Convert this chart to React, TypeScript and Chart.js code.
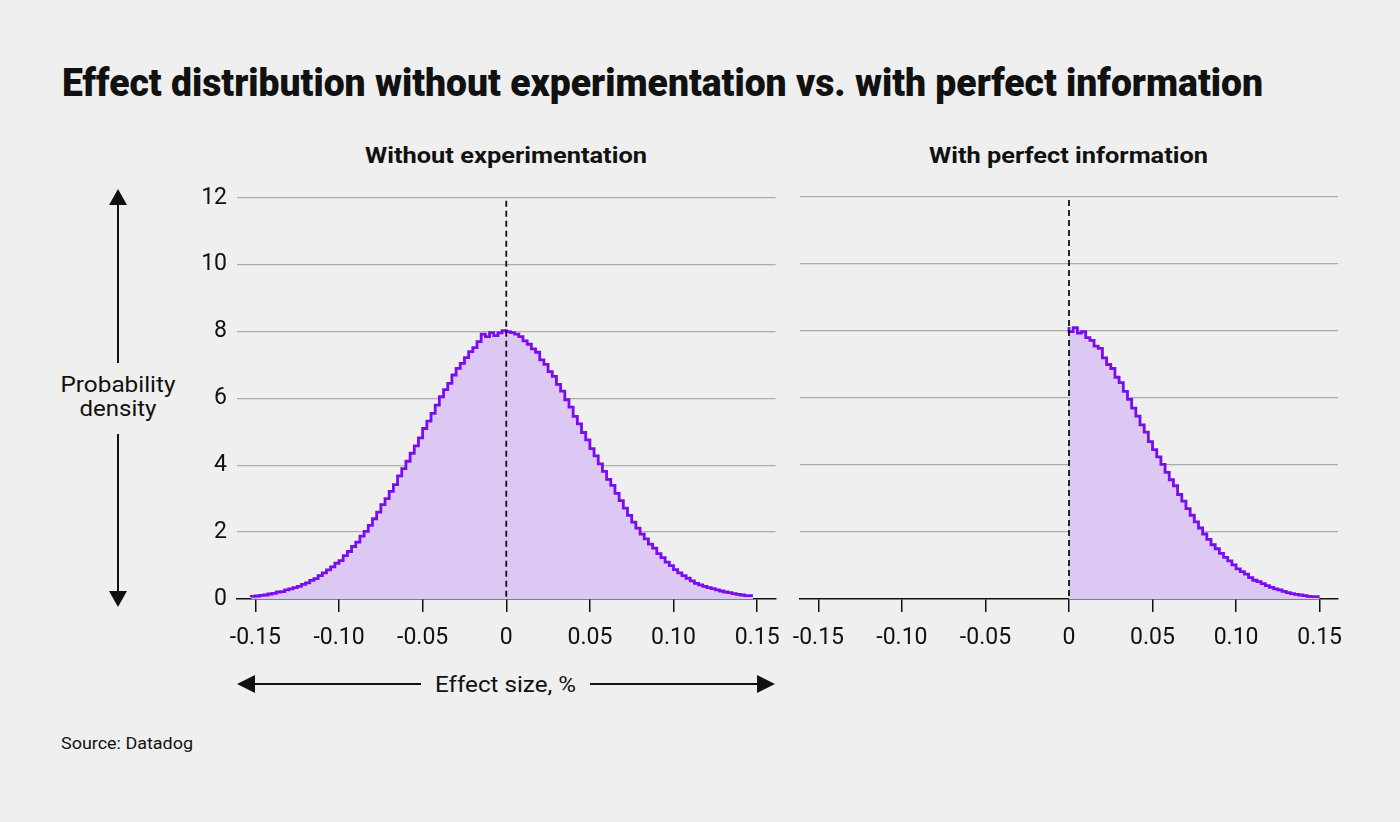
import React, { useEffect, useRef } from 'react';
import { Chart, registerables } from 'chart.js';

Chart.register(...registerables);

// ---- data ----
const BIN_WIDTH = 0.0025;
const LEFT_START = -0.1525;
const LEFT_DENSITY = [
  0.06, 0.08, 0.09, 0.11, 0.12, 0.15, 0.17, 0.21, 0.22, 0.27,
  0.30, 0.34, 0.38, 0.44, 0.48, 0.56, 0.61, 0.70, 0.78, 0.87,
  0.96, 1.07, 1.15, 1.30, 1.42, 1.57, 1.70, 1.88, 2.02, 2.20,
  2.40, 2.60, 2.82, 3.00, 3.22, 3.42, 3.68, 3.90, 4.12, 4.36,
  4.58, 4.82, 5.10, 5.32, 5.55, 5.80, 6.05, 6.26, 6.45, 6.70,
  6.90, 7.05, 7.22, 7.40, 7.52, 7.70, 7.92, 7.85, 7.97, 7.88,
  7.96, 8.03, 8.00, 7.97, 7.92, 7.85, 7.72, 7.62, 7.48, 7.38,
  7.15, 7.02, 6.80, 6.66, 6.42, 6.22, 5.96, 5.74, 5.46, 5.24,
  4.98, 4.76, 4.50, 4.28, 4.04, 3.82, 3.58, 3.40, 3.16, 2.94,
  2.72, 2.50, 2.30, 2.12, 1.94, 1.80, 1.64, 1.52, 1.36, 1.24,
  1.10, 1.00, 0.88, 0.78, 0.70, 0.62, 0.54, 0.47, 0.42, 0.38,
  0.34, 0.31, 0.27, 0.24, 0.21, 0.19, 0.16, 0.14, 0.12, 0.10,
];
const RIGHT_START = 0;
const RIGHT_DENSITY = [
  8.12, 7.98, 8.10, 7.94, 7.98, 7.80, 7.72, 7.55, 7.48, 7.20,
  7.00, 6.88, 6.62, 6.46, 6.20, 5.96, 5.70, 5.46, 5.20, 4.98,
  4.70, 4.46, 4.24, 4.02, 3.78, 3.56, 3.38, 3.12, 2.92, 2.70,
  2.50, 2.30, 2.12, 1.94, 1.78, 1.62, 1.50, 1.36, 1.24, 1.14,
  1.02, 0.90, 0.82, 0.74, 0.64, 0.56, 0.52, 0.46, 0.40, 0.35,
  0.30, 0.27, 0.23, 0.19, 0.16, 0.14, 0.12, 0.10, 0.08, 0.07,
];
const X_TICKS = [-0.15, -0.1, -0.05, 0, 0.05, 0.1, 0.15];
const Y_TICKS = [0, 2, 4, 6, 8, 10, 12];
const X_MIN = -0.161;
const X_MAX = 0.161;

const TITLE = 'Effect distribution without experimentation vs. with perfect information';
const LEFT_TITLE = 'Without experimentation';
const RIGHT_TITLE = 'With perfect information';
const Y_LABEL = ['Probability', 'density'];
const X_LABEL = 'Effect size, %';
const SOURCE = 'Source: Datadog';

const LINE_COLOR = '#7a0cf0';
const FILL_COLOR = 'rgb(221,199,243)';
const TEXT = '#111111';
const BG = '#efefef';

function binPoints(values: number[], start: number) {
  const pts = values.map((v, i) => ({ x: start + i * BIN_WIDTH, y: v }));
  pts.push({ x: start + values.length * BIN_WIDTH, y: values[values.length - 1] });
  return pts;
}

function fmtX(v: number) {
  if (Math.abs(v) < 1e-9) return '0';
  return (v < 0 ? '-' : '') + Math.abs(v).toFixed(2);
}

const zeroLine = {
  id: 'zeroLine',
  afterDatasetsDraw(chart: any) {
    const { ctx, chartArea, scales } = chart;
    const x = scales.x.getPixelForValue(0);
    ctx.save();
    ctx.setLineDash([6, 4]);
    ctx.lineWidth = 1.8;
    ctx.strokeStyle = TEXT;
    ctx.beginPath();
    ctx.moveTo(x, chartArea.top + 3);
    ctx.lineTo(x, chartArea.bottom);
    ctx.stroke();
    ctx.restore();
  },
};

function makeConfig(values: number[], start: number, showY: boolean, yWidth: number, padRight: number, padTop: number): any {
  return {
    type: 'line',
    data: {
      datasets: [
        {
          data: binPoints(values, start),
          stepped: 'after',
          borderColor: LINE_COLOR,
          borderWidth: 2.8,
          backgroundColor: FILL_COLOR,
          fill: 'origin',
          pointRadius: 0,
        },
      ],
    },
    options: {
      responsive: false,
      animation: false,
      layout: { padding: { top: padTop, right: padRight, left: 0, bottom: 0 } },
      plugins: { legend: { display: false }, tooltip: { enabled: false } },
      scales: {
        x: {
          type: 'linear',
          min: X_MIN,
          max: X_MAX,
          afterBuildTicks: (s: any) => {
            s.ticks = X_TICKS.map((v) => ({ value: v }));
          },
          afterFit: (s: any) => {
            s.height = 61;
          },
          grid: { drawOnChartArea: false, drawTicks: true, tickLength: 13, color: TEXT, lineWidth: 1.5 },
          border: { display: true, color: TEXT, width: 1.5 },
          ticks: {
            padding: 12,
            color: TEXT,
            font: { family: 'Roboto', size: 23 },
            maxRotation: 0,
            autoSkip: false,
            callback: (v: any) => fmtX(Number(v)),
          },
        },
        y: {
          min: 0,
          max: 12,
          afterBuildTicks: (s: any) => {
            s.ticks = Y_TICKS.map((v) => ({ value: v }));
          },
          afterFit: (s: any) => {
            s.width = yWidth;
          },
          grid: {
            color: (c: any) => (c.tick && c.tick.value === 0 ? 'rgba(0,0,0,0)' : '#ababab'),
            lineWidth: 1.3,
            drawTicks: false,
          },
          border: { display: false },
          ticks: {
            display: showY,
            padding: 10,
            color: TEXT,
            font: { family: 'Roboto', size: 23 },
          },
        },
      },
    },
    plugins: [zeroLine],
  };
}

function Panel(props: { values: number[]; start: number; showY: boolean; left: number; top: number; width: number; height: number; yWidth: number; padRight: number; padTop: number }) {
  const ref = useRef<HTMLCanvasElement | null>(null);
  useEffect(() => {
    if (!ref.current) return;
    const chart = new Chart(ref.current, makeConfig(props.values, props.start, props.showY, props.yWidth, props.padRight, props.padTop));
    return () => chart.destroy();
  }, []);
  return (
    <canvas
      ref={ref}
      width={props.width}
      height={props.height}
      style={{ position: 'absolute', left: props.left, top: props.top, width: props.width, height: props.height }}
    />
  );
}

export default function App() {
  const font = 'Roboto, sans-serif';
  return (
    <div style={{ position: 'absolute', left: 0, top: 0, width: 1400, height: 822, background: BG, overflow: 'hidden' }}>
      <svg width={1400} height={822} style={{ position: 'absolute', left: 0, top: 0 }}>
        <text x={62} y={96} fontFamily={font} fontWeight={900} fontSize={38} fill={TEXT} textLength={1201} lengthAdjust="spacingAndGlyphs">
          {TITLE}
        </text>
        <text x={506} y={163} textAnchor="middle" fontFamily={font} fontWeight={700} fontSize={22} fill={TEXT} textLength={282} lengthAdjust="spacingAndGlyphs">
          {LEFT_TITLE}
        </text>
        <text x={1068.5} y={163} textAnchor="middle" fontFamily={font} fontWeight={700} fontSize={22} fill={TEXT} textLength={279} lengthAdjust="spacingAndGlyphs">
          {RIGHT_TITLE}
        </text>

        {/* y axis arrow */}
        <line x1={118} y1={203} x2={118} y2={363} stroke={TEXT} strokeWidth={2} />
        <polygon points="109,205 127,205 118,189" fill={TEXT} />
        <line x1={118} y1={434} x2={118} y2={593} stroke={TEXT} strokeWidth={2} />
        <polygon points="109,591 127,591 118,607" fill={TEXT} />
        <text x={118} y={392} textAnchor="middle" fontFamily={font} fontSize={22} fill={TEXT} textLength={115} lengthAdjust="spacingAndGlyphs">
          {Y_LABEL[0]}
        </text>
        <text x={118} y={416} textAnchor="middle" fontFamily={font} fontSize={22} fill={TEXT} textLength={77} lengthAdjust="spacingAndGlyphs">
          {Y_LABEL[1]}
        </text>

        {/* x axis arrow */}
        <line x1={252} y1={684} x2={421} y2={684} stroke={TEXT} strokeWidth={2} />
        <polygon points="237,684 255,675 255,693" fill={TEXT} />
        <line x1={590} y1={684} x2={760} y2={684} stroke={TEXT} strokeWidth={2} />
        <polygon points="775,684 757,675 757,693" fill={TEXT} />
        <text x={505.5} y={692} textAnchor="middle" fontFamily={font} fontSize={22} fill={TEXT} textLength={141} lengthAdjust="spacingAndGlyphs">
          {X_LABEL}
        </text>

        <text x={61} y={749} fontFamily={font} fontSize={16} fill={TEXT} textLength={132} lengthAdjust="spacingAndGlyphs">
          {SOURCE}
        </text>
      </svg>
      <Panel values={LEFT_DENSITY} start={LEFT_START} showY={true} left={150} top={174} width={642} height={486} yWidth={87} padRight={13} padTop={17} />
      <Panel values={RIGHT_DENSITY} start={RIGHT_START} showY={false} left={760} top={180} width={600} height={480} yWidth={40} padRight={22} padTop={17} />
    </div>
  );
}
